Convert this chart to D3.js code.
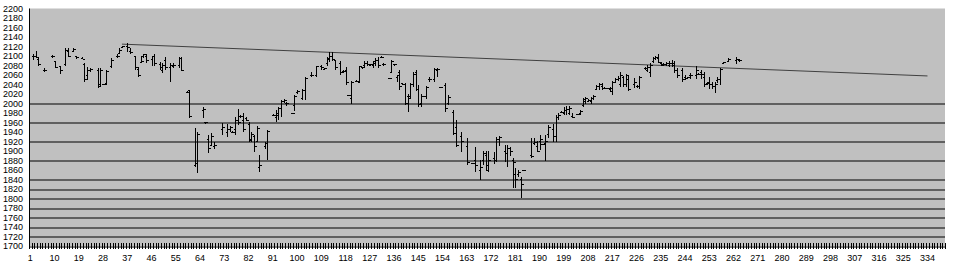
<!DOCTYPE html>
<html>
<head>
<meta charset="utf-8">
<style>
  body { margin: 0; background: #fff; }
  text { font-family: Arial, "Liberation Sans", sans-serif; font-size: 9px; fill: #000; }
</style>
</head>
<body>
<svg width="960" height="274"></svg>

<script src="https://cdn.jsdelivr.net/npm/d3@7"></script>

<script>
    // trading day number (category) of each bar, and its OHLC values
    var days = [2, 3, 4, 6, 9, 10, 12, 14, 15, 17, 18, 20, 21, 22, 23, 26, 27, 28, 29, 31,
        33, 34, 35, 37, 38, 40, 41, 42, 43, 44, 46, 47, 49, 50, 51, 53, 54, 56, 57, 59,
        60, 62, 63, 65, 66, 67, 68, 69, 72, 74, 75, 76, 77, 78, 79, 80, 81, 82, 83, 84,
        85, 86, 88, 89, 91, 92, 93, 94, 95, 96, 98, 99, 100, 102, 103, 105, 107, 109, 110, 111,
        112, 113, 114, 116, 117, 118, 119, 120, 122, 123, 124, 125, 126, 127, 128, 129, 130, 131, 132, 134,
        135, 136, 137, 138, 139, 140, 141, 142, 143, 144, 145, 146, 147, 148, 149, 151, 152, 153, 155, 156,
        158, 159, 161, 163, 165, 166, 168, 169, 170, 171, 173, 174, 175, 177, 178, 179, 180, 181, 182, 183,
        184, 187, 188, 189, 190, 191, 192, 193, 195, 196, 197, 198, 199, 200, 201, 202, 204, 205, 206, 207,
        208, 209, 210, 211, 212, 213, 214, 215, 216, 217, 218, 219, 220, 221, 222, 223, 225, 226, 227, 229,
        230, 231, 232, 233, 234, 235, 236, 237, 238, 239, 240, 241, 243, 244, 245, 246, 248, 249, 250, 251,
        252, 253, 254, 255, 256, 257, 258, 260, 263, 264];

    var opens = [2100, 2098, 2093, 2070, 2098, 2088, 2078, 2082, 2110, 2110, 2098, 2095, 2082, 2060, 2070, 2070, 2040, 2040, 2042, 2078,
        2098, 2106, 2117, 2120, 2110, 2098, 2072, 2087, 2100, 2100, 2092, 2100, 2082, 2070, 2090, 2075, 2078, 2080, 2095, 2024,
        2027, 1870, 1873, 1985, 1959, 1925, 1912, 1910, 1945, 1940, 1945, 1940, 1945, 1965, 1972, 1965, 1968, 1955, 1925, 1930,
        1920, 1865, 1910, 1915, 1975, 1970, 1975, 1990, 2005, 2000, 1980, 1995, 2024, 2010, 2028, 2060, 2060, 2078, 2072, 2085,
        2095, 2098, 2090, 2085, 2068, 2070, 2017, 2010, 2047, 2045, 2075, 2080, 2085, 2081, 2080, 2085, 2090, 2097, 2083, 2052,
        2065, 2082, 2055, 2065, 2042, 2040, 2015, 2015, 2040, 2065, 2030, 2000, 2015, 2015, 2050, 2050, 2070, 2034, 2038, 2000,
        1982, 1950, 1930, 1910, 1874, 1880, 1860, 1880, 1890, 1870, 1885, 1880, 1925, 1900, 1895, 1905, 1880, 1850, 1850, 1840,
        1858, 1890, 1915, 1910, 1920, 1913, 1915, 1935, 1945, 1930, 1970, 1982, 1978, 1985, 1980, 1972, 1976, 1978, 1995, 2005,
        2005, 2005, 2010, 2030, 2035, 2035, 2032, 2032, 2030, 2025, 2045, 2050, 2040, 2055, 2040, 2050, 2040, 2035, 2035, 2073,
        2070, 2065, 2088, 2095, 2095, 2085, 2080, 2082, 2080, 2085, 2085, 2070, 2070, 2055, 2055, 2058, 2060, 2062, 2065, 2055,
        2042, 2045, 2040, 2035, 2048, 2050, 2085, 2088, 2090, 2090];

    var highs = [2105, 2110, 2095, 2074, 2102, 2090, 2080, 2116, 2116, 2116, 2100, 2097, 2085, 2077, 2075, 2075, 2075, 2042, 2070, 2095,
        2105, 2116, 2122, 2127, 2116, 2100, 2077, 2100, 2105, 2105, 2100, 2105, 2087, 2085, 2097, 2085, 2085, 2097, 2097, 2026,
        2028, 1948, 1939, 1992, 1960, 1933, 1937, 1919, 1958, 1956, 1953, 1942, 1971, 1988, 1975, 1980, 1972, 1962, 1940, 1933,
        1952, 1891, 1919, 1944, 1977, 1986, 1992, 2007, 2009, 2004, 1981, 2017, 2028, 2030, 2055, 2066, 2080, 2082, 2075, 2097,
        2108, 2108, 2092, 2090, 2070, 2077, 2018, 2047, 2049, 2080, 2076, 2090, 2090, 2083, 2090, 2095, 2097, 2099, 2086, 2053,
        2091, 2083, 2060, 2070, 2043, 2043, 2020, 2043, 2066, 2070, 2039, 2020, 2016, 2036, 2055, 2074, 2074, 2035, 2043, 2018,
        1986, 1965, 1939, 1927, 1875, 1909, 1881, 1901, 1899, 1899, 1897, 1929, 1931, 1912, 1912, 1909, 1885, 1864, 1860, 1845,
        1859, 1927, 1927, 1922, 1933, 1914, 1933, 1954, 1956, 1975, 1981, 1984, 1992, 1994, 1994, 1981, 1977, 1986, 2011, 2013,
        2009, 2013, 2018, 2039, 2043, 2043, 2034, 2033, 2034, 2047, 2053, 2057, 2066, 2058, 2062, 2060, 2053, 2040, 2057, 2077,
        2081, 2085, 2097, 2099, 2104, 2087, 2085, 2088, 2090, 2091, 2090, 2074, 2074, 2060, 2056, 2064, 2078, 2064, 2070, 2066,
        2045, 2055, 2045, 2045, 2055, 2074, 2087, 2095, 2097, 2094];

    var lows = [2091, 2095, 2080, 2066, 2096, 2074, 2062, 2080, 2098, 2108, 2093, 2093, 2045, 2050, 2066, 2033, 2035, 2039, 2040, 2075,
        2095, 2104, 2116, 2108, 2104, 2070, 2055, 2085, 2095, 2085, 2080, 2080, 2070, 2065, 2070, 2045, 2075, 2075, 2068, 2022,
        1969, 1866, 1853, 1969, 1958, 1895, 1912, 1905, 1933, 1930, 1940, 1938, 1933, 1954, 1970, 1940, 1963, 1918, 1918, 1897,
        1920, 1855, 1905, 1881, 1973, 1961, 1966, 1971, 2002, 1994, 1979, 1984, 2021, 2007, 2007, 2055, 2055, 2070, 2070, 2080,
        2087, 2090, 2070, 2060, 2065, 2040, 2016, 2000, 2045, 2043, 2073, 2075, 2080, 2080, 2075, 2080, 2075, 2095, 2080, 2051,
        2064, 2080, 2045, 2028, 2040, 1997, 1982, 2012, 2035, 2026, 1993, 1993, 2013, 2010, 2045, 2045, 2055, 2033, 1982, 1997,
        1933, 1909, 1897, 1870, 1873, 1855, 1839, 1870, 1857, 1855, 1872, 1876, 1910, 1876, 1866, 1889, 1822, 1822, 1846, 1801,
        1857, 1885, 1912, 1897, 1903, 1912, 1880, 1927, 1918, 1918, 1965, 1980, 1975, 1975, 1975, 1969, 1975, 1975, 1992, 1999,
        2003, 1999, 2007, 2028, 2028, 2028, 2030, 2031, 2024, 2017, 2043, 2047, 2034, 2034, 2034, 2026, 2032, 2032, 2030, 2070,
        2066, 2055, 2085, 2092, 2085, 2080, 2078, 2080, 2076, 2076, 2065, 2053, 2045, 2049, 2054, 2051, 2051, 2060, 2051, 2034,
        2040, 2030, 2030, 2022, 2043, 2040, 2085, 2087, 2083, 2088];

    var closes = [2098, 2097, 2082, 2070, 2099, 2076, 2070, 2112, 2100, 2113, 2096, 2093, 2050, 2070, 2072, 2035, 2070, 2041, 2068, 2090,
        2100, 2112, 2120, 2118, 2108, 2075, 2058, 2088, 2103, 2090, 2098, 2085, 2076, 2080, 2075, 2080, 2080, 2095, 2070, 2024,
        1972, 1873, 1935, 1988, 1959, 1905, 1930, 1912, 1950, 1945, 1950, 1940, 1965, 1960, 1972, 1945, 1965, 1922, 1935, 1910,
        1948, 1870, 1915, 1942, 1975, 1980, 1990, 2005, 2007, 2000, 1980, 2014, 2025, 2028, 2052, 2058, 2078, 2075, 2073, 2093,
        2100, 2093, 2075, 2065, 2067, 2045, 2017, 2044, 2047, 2078, 2075, 2085, 2082, 2082, 2088, 2090, 2080, 2097, 2082, 2052,
        2088, 2082, 2058, 2035, 2041, 2000, 2010, 2040, 2062, 2030, 1998, 2015, 2014, 2033, 2050, 2072, 2072, 2034, 1990, 2012,
        1936, 1912, 1920, 1875, 1874, 1870, 1865, 1895, 1860, 1880, 1880, 1925, 1928, 1895, 1905, 1900, 1875, 1840, 1855, 1830,
        1858, 1888, 1918, 1900, 1925, 1913, 1920, 1950, 1930, 1970, 1975, 1982, 1985, 1988, 1990, 1970, 1976, 1984, 2008, 2010,
        2006, 2010, 2015, 2035, 2040, 2032, 2032, 2032, 2032, 2045, 2050, 2052, 2060, 2040, 2058, 2030, 2045, 2036, 2055, 2074,
        2076, 2080, 2095, 2097, 2087, 2083, 2082, 2085, 2085, 2080, 2070, 2058, 2050, 2052, 2055, 2060, 2070, 2062, 2062, 2040,
        2043, 2040, 2035, 2040, 2050, 2072, 2087, 2093, 2092, 2091];

    // category axis 1..340, labels every 9th
    var dayCount = 340;
    var yTicks = d3.range(1700, 2201, 20);
    var gridLevels = [2000, 1960, 1920, 1880, 1840, 1820, 1800, 1780, 1760, 1740, 1720];
    var trendDays = [35, 334];
    var trendValues = [2125, 2058];

    var svg = d3.select("svg");
    var margin = { top: 8.5, right: 15, bottom: 28, left: 29 };
    var width = +svg.attr("width") - margin.left - margin.right,
        height = +svg.attr("height") - margin.top - margin.bottom;

    var cats = d3.range(1, dayCount + 1);
    var x = d3.scaleBand().domain(cats).range([0, width]).padding(0);
    var y = d3.scaleLinear().domain([1700, 2200]).range([height, 0]);

    var g = svg.append("g").attr("transform", "translate(" + margin.left + "," + margin.top + ")");

    g.append("rect")
        .attr("width", width)
        .attr("height", height)
        .attr("fill", "#c0c0c0");

    // horizontal lines
    g.selectAll(".grid")
        .data(gridLevels)
        .enter().append("line")
        .attr("class", "grid")
        .attr("x1", 0)
        .attr("x2", width)
        .attr("y1", function(d) { return Math.round(y(d)) + 0.5; })
        .attr("y2", function(d) { return Math.round(y(d)) + 0.5; })
        .attr("stroke", "#000")
        .attr("stroke-width", 1);

    // y axis
    var yAxis = g.append("g")
        .call(d3.axisLeft(y).tickValues(yTicks).tickSize(0).tickPadding(6).tickFormat(d3.format("d")));
    yAxis.select(".domain").remove();
    yAxis.selectAll("text").attr("font-size", 9).attr("font-family", "Arial, 'Liberation Sans', sans-serif");

    // x axis: ticks between every category, labels every 9th
    var xAxisG = g.append("g").attr("transform", "translate(0," + height + ")");
    xAxisG.selectAll(".xt")
        .data(d3.range(0, dayCount + 1))
        .enter().append("line")
        .attr("class", "xt")
        .attr("x1", function(d) { return Math.round(d * x.bandwidth()) + 0.5; })
        .attr("x2", function(d) { return Math.round(d * x.bandwidth()) + 0.5; })
        .attr("y1", -3)
        .attr("y2", 3)
        .attr("stroke", "#000");
    xAxisG.selectAll(".xl")
        .data(cats.filter(function(d) { return (d - 1) % 9 === 0; }))
        .enter().append("text")
        .attr("class", "xl")
        .attr("x", function(d) { return x(d) + x.bandwidth() / 2; })
        .attr("y", 15)
        .attr("text-anchor", "middle")
        .text(function(d) { return d; });

    // axis lines
    g.append("line").attr("x1", 0.5).attr("x2", 0.5).attr("y1", 0).attr("y2", height)
        .attr("stroke", "#000");
    g.append("line").attr("x1", 0).attr("x2", width).attr("y1", Math.round(height) + 0.5).attr("y2", Math.round(height) + 0.5)
        .attr("stroke", "#000");

    // trend line
    g.append("line")
        .attr("x1", x(trendDays[0]) + x.bandwidth() / 2)
        .attr("y1", y(trendValues[0]))
        .attr("x2", x(trendDays[1]) + x.bandwidth() / 2)
        .attr("y2", y(trendValues[1]))
        .attr("stroke", "#404040")
        .attr("stroke-width", 1);

    // OHLC bars
    var bars = days.map(function(d, i) {
        return { day: d, o: opens[i], h: highs[i], l: lows[i], c: closes[i] };
    });

    var bar = g.selectAll(".bar")
        .data(bars)
        .enter().append("g")
        .attr("class", "bar")
        .attr("shape-rendering", "crispEdges")
        .attr("transform", function(d) {
            return "translate(" + (Math.round(x(d.day) + x.bandwidth() / 2) + 0.5) + ",0)";
        });

    bar.append("line")
        .attr("y1", function(d) { return y(d.h); })
        .attr("y2", function(d) { return Math.max(y(d.l), y(d.h) + 1); })
        .attr("stroke", "#000");
    bar.append("line")
        .attr("x1", -2).attr("x2", 0)
        .attr("y1", function(d) { return y(d.o); })
        .attr("y2", function(d) { return y(d.o); })
        .attr("stroke", "#000");
    bar.append("line")
        .attr("x1", 0).attr("x2", 2)
        .attr("y1", function(d) { return y(d.c); })
        .attr("y2", function(d) { return y(d.c); })
        .attr("stroke", "#000");
</script>
</body>
</html>
